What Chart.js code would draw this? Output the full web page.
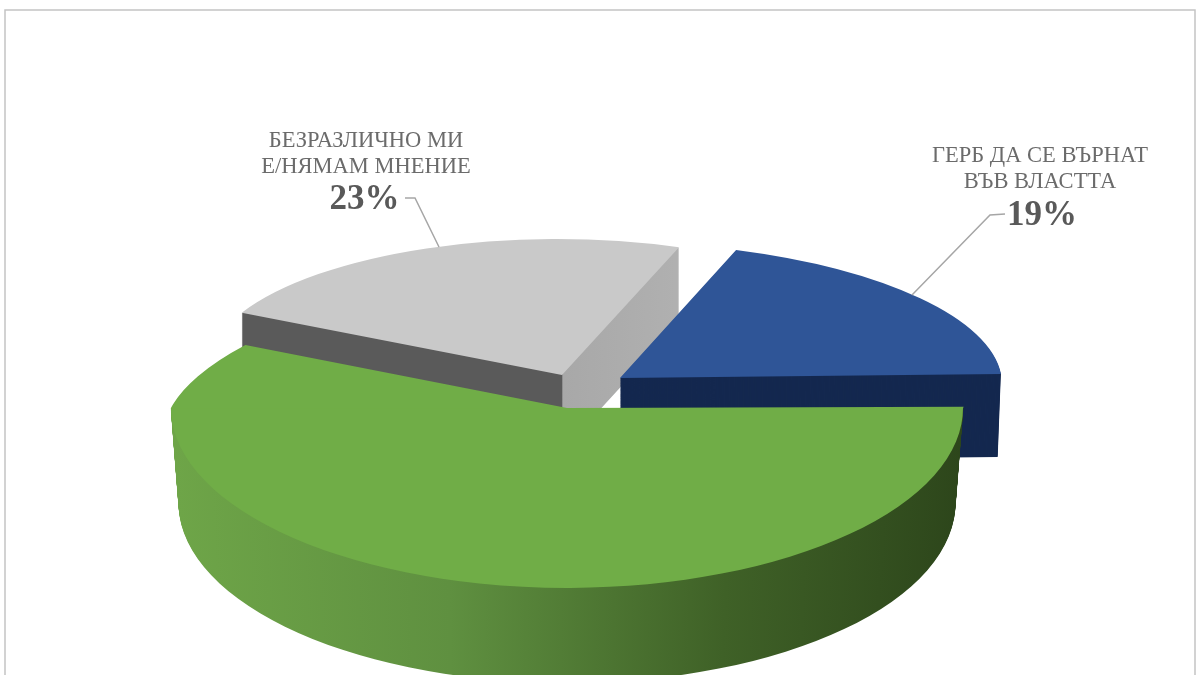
<!DOCTYPE html>
<html lang="bg">
<head>
<meta charset="utf-8">
<title>Pie</title>
<script src="https://cdn.jsdelivr.net/npm/chart.js@4"></script>
<style>
  html, body { margin: 0; padding: 0; background: #fff; overflow: hidden; }
  #box { width: 1200px; height: 675px; overflow: hidden; }
  canvas { display: block; }
</style>
</head>
<body>
<div id="box"><canvas id="pie" width="1200" height="892"></canvas></div>
<script>
const categories = ['ГЕРБ да се върнат във властта', 'Останалите', 'Безразлично ми е/нямам мнение'];
const shares = [19, 58, 23];
const topColors = ['#2f5597', '#70ad47', '#c9c9c9'];

// how each slice is laid flat on the page: tip position, stretch, wall height
const squash = 0.4;
const views = [
  { ax: 620, ay: 378, sx: 1.08, sy: 0.965, skew: 0.117, depth: 83, taper: 0.0001 },
  { ax: 567, ay: 408, sx: 0.995, sy: 1.13, skew: 0, depth: 95, taper: 0.0002,
    upper: { sy: 0.9, skew: -0.54 } },
  { ax: 562, ay: 375, sx: 1.02, sy: 0.97, skew: 0.04, depth: 76, taper: 0 }
];
const drawOrder = [2, 0, 1]; // back to front

function wallFill(ctx, i, arc, view) {
  const toLocal = x => arc.x + (x - view.ax) / view.sx;
  if (i === 0) return '#14284f';
  let g;
  if (i === 1) {
    g = ctx.createLinearGradient(toLocal(172), 0, toLocal(963), 0);
    g.addColorStop(0, '#6ea548');
    g.addColorStop(0.35, '#5f9040');
    g.addColorStop(0.7, '#3f6127');
    g.addColorStop(1, '#2d461b');
    return g;
  }
  g = ctx.createLinearGradient(toLocal(240), 0, toLocal(680), 0);
  g.addColorStop(0, '#5a5a5a');
  g.addColorStop(0.731, '#5a5a5a');
  g.addColorStop(0.734, '#a8a8a8');
  g.addColorStop(1, '#b0b0b0');
  return g;
}

function drawPiece(ctx, arc, view, shape, drop) {
  const half = (arc.startAngle + arc.endAngle) / 2;
  const shift = arc.options.offset / 4;
  const taper = 1 - drop * view.taper;
  ctx.translate(view.ax, view.ay + drop);
  ctx.transform(1, 0, shape.skew, 1, 0, 0);
  ctx.scale(view.sx * taper, squash * shape.sy);
  ctx.translate(-arc.x - Math.cos(half) * shift, -arc.y - Math.sin(half) * shift);
  arc.draw(ctx);
}

function drawSlice(ctx, arc, view, drop) {
  const line = view.ay + drop;
  ctx.save();
  if (view.upper) {
    ctx.beginPath();
    ctx.rect(0, line, 1200, 892);
    ctx.clip();
  }
  drawPiece(ctx, arc, view, view, drop);
  ctx.restore();
  if (view.upper) {
    ctx.save();
    ctx.beginPath();
    ctx.rect(0, 0, 1200, line + 0.5);
    ctx.clip();
    drawPiece(ctx, arc, view, view.upper, drop);
    ctx.restore();
  }
}

const flatPie = {
  id: 'flatPie',
  beforeDatasetsDraw(chart) {
    const ctx = chart.ctx;
    const arcs = chart.getDatasetMeta(0).data;
    drawOrder.forEach(i => {
      const arc = arcs[i];
      const view = views[i];
      const plain = arc.options;
      arc.options = { ...plain, backgroundColor: wallFill(ctx, i, arc, view) };
      for (let k = view.depth; k > 0; k--) {
        drawSlice(ctx, arc, view, k);
      }
      arc.options = plain;
      drawSlice(ctx, arc, view, 0);
    });
    return false;
  },
  afterDraw(chart) {
    const ctx = chart.ctx;
    ctx.save();
    // frame
    ctx.strokeStyle = '#c4c4c4';
    ctx.lineWidth = 1.5;
    ctx.beginPath();
    ctx.moveTo(5, 675); ctx.lineTo(5, 10); ctx.lineTo(1195, 10); ctx.lineTo(1195, 675);
    ctx.stroke();
    // leader lines
    ctx.strokeStyle = '#a6a6a6';
    ctx.lineWidth = 1.5;
    ctx.beginPath();
    ctx.moveTo(405, 198); ctx.lineTo(415, 198); ctx.lineTo(439, 247);
    ctx.moveTo(1005, 214); ctx.lineTo(990, 215); ctx.lineTo(912, 295);
    ctx.stroke();
    // labels
    ctx.textAlign = 'center';
    ctx.textBaseline = 'alphabetic';
    ctx.fillStyle = '#6b6b6b';
    ctx.font = '22.5px "Liberation Serif"';
    ctx.fillText('БЕЗРАЗЛИЧНО МИ', 366, 147);
    ctx.fillText('Е/НЯМАМ МНЕНИЕ', 366, 173);
    ctx.fillText('ГЕРБ ДА СЕ ВЪРНАТ', 1040, 162);
    ctx.fillText('ВЪВ ВЛАСТТА', 1040, 188);
    ctx.fillStyle = '#595959';
    ctx.font = 'bold 35px "Liberation Serif"';
    ctx.fillText(shares[2] + '%', 364.5, 209);
    ctx.fillText(shares[0] + '%', 1042, 225);
    ctx.restore();
  }
};

new Chart(document.getElementById('pie'), {
  type: 'pie',
  data: {
    labels: categories,
    datasets: [{
      data: shares,
      backgroundColor: topColors,
      borderWidth: 0,
      offset: 192
    }]
  },
  options: {
    responsive: false,
    animation: false,
    events: [],
    rotation: 20,
    layout: { padding: 0 },
    plugins: { legend: { display: false }, tooltip: { enabled: false } }
  },
  plugins: [flatPie]
});
</script>
</body>
</html>
